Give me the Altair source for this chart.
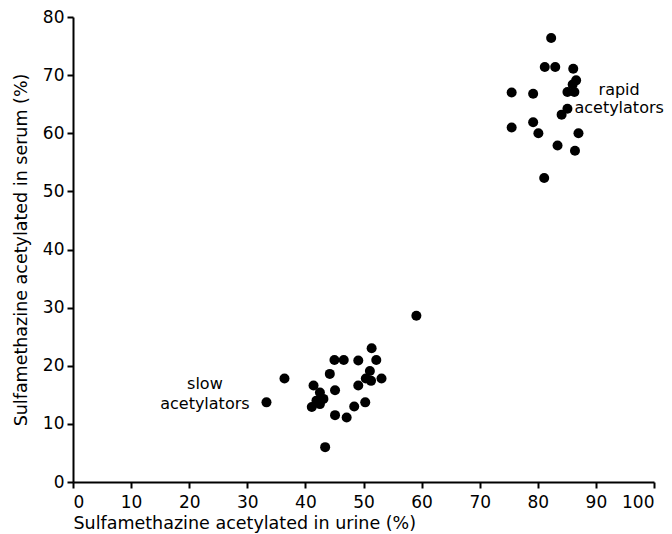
import altair as alt
import pandas as pd

# Rapid acetylators (urine %, serum %)
rapid_x = [82.3, 81.2, 83.0, 86.1, 86.6, 86.0, 85.1, 86.3, 75.5, 79.2, 85.1, 84.1,
           75.5, 79.2, 80.1, 87.0, 83.4, 86.4, 81.1]
rapid_y = [76.4, 71.4, 71.4, 71.1, 69.1, 68.4, 67.1, 67.1, 67.0, 66.8, 64.2, 63.2,
           61.0, 61.9, 60.0, 60.0, 57.9, 57.0, 52.3]

# Slow acetylators
slow_x = [59.1, 51.4, 45.0, 46.6, 49.1, 52.2, 44.2, 51.1, 50.4, 53.1, 51.3, 49.1,
          45.1, 41.4, 42.5, 43.1, 41.9, 41.1, 42.5, 50.3, 48.4, 45.1, 47.1,
          36.4, 33.3, 43.4]
slow_y = [28.6, 23.0, 21.0, 21.0, 20.9, 21.0, 18.6, 19.1, 17.8, 17.8, 17.4, 16.6,
          15.8, 16.6, 15.4, 14.3, 14.0, 12.9, 13.4, 13.7, 13.0, 11.5, 11.1,
          17.8, 13.7, 6.0]

label_text = ["rapid", "acetylators", "slow", "acetylators"]
label_x = [94.0, 94.0, 22.7, 22.7]
label_y = [67.5, 64.3, 16.9, 13.5]

FONT = "DejaVu Sans"

pts = pd.DataFrame({
    "urine": rapid_x + slow_x,
    "serum": rapid_y + slow_y,
})
labels = pd.DataFrame({"t": label_text, "x": label_x, "y": label_y})

xscale = alt.Scale(domain=[0, 100], nice=False, zero=True)
yscale = alt.Scale(domain=[0, 80], nice=False, zero=True)

points = alt.Chart(pts).mark_circle(size=100, color="black", opacity=1).encode(
    x=alt.X("urine:Q", scale=xscale,
            axis=alt.Axis(title="Sulfamethazine acetylated in urine (%)",
                          values=list(range(0, 101, 10)),
                          titleAnchor="start", titleAlign="left",
                          labelPadding=6, titlePadding=4)),
    y=alt.Y("serum:Q", scale=yscale,
            axis=alt.Axis(title="Sulfamethazine acetylated in serum (%)",
                          values=list(range(0, 81, 10)),
                          labelPadding=3, titlePadding=12)),
)

text = alt.Chart(labels).mark_text(
    font=FONT, fontSize=16, color="black", align="center", baseline="middle"
).encode(
    x=alt.X("x:Q", scale=xscale),
    y=alt.Y("y:Q", scale=yscale),
    text="t:N",
)

chart = (points + text).properties(
    width=581, height=465,
    autosize=alt.AutoSizeParams(type="none"),
    padding={"left": 65, "top": 9, "right": 10, "bottom": 52},
).configure_view(stroke=None).configure_axis(
    grid=False,
    domainColor="black", domainWidth=2,
    tickColor="black", tickWidth=2, tickSize=6,
    labelColor="black", labelFont=FONT, labelFontSize=17,
    titleColor="black", titleFont=FONT, titleFontSize=17.5, titleFontWeight="normal",
)

chart.save("out.html", embed_options={"renderer": "svg", "actions": False})
